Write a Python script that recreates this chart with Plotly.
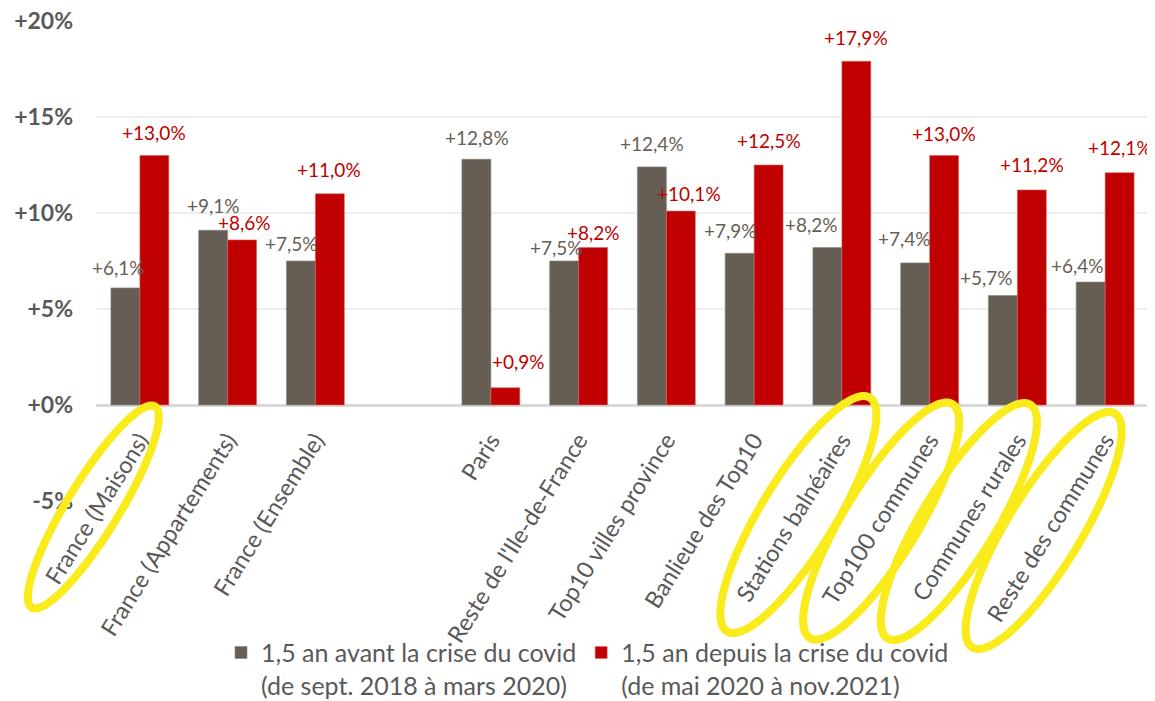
import math
import plotly.graph_objects as go

# ---------------- data ----------------
categories = ["France (Maisons)", "France (Appartements)", "France (Ensemble)", "",
              "Paris", "Reste de l'Ile-de-France", "Top10 villes province",
              "Banlieue des Top10", "Stations balnéaires", "Top100 communes",
              "Communes rurales", "Reste des communes"]
before_covid = [6.1, 9.1, 7.5, None, 12.8, 7.5, 12.4, 7.9, 8.2, 7.4, 5.7, 6.4]
after_covid = [13.0, 8.6, 11.0, None, 0.9, 8.2, 10.1, 12.5, 17.9, 13.0, 11.2, 12.1]
series_names = ["1,5 an avant la crise du covid<br>(de sept. 2018 à mars 2020)",
                "1,5 an depuis la crise du covid<br>(de mai 2020 à nov.2021)"]
y_tickvals = [-5, 0, 5, 10, 15, 20]
y_ticktext = ["-5%", "+0%", "+5%", "+10%", "+15%", "+20%"]
highlighted = ["France (Maisons)", "Stations balnéaires", "Top100 communes",
               "Communes rurales", "Reste des communes"]

# ---------------- style / layout ----------------
OFF = 8                      # page body margin of the html page
REF_W, REF_H = 1155, 701
YPAD = 0.05
YR = [-5 - YPAD, 20 + YPAD]
REF_L, REF_T = 96, 20        # plot area top-left in the page
PW, PH = 1053, 482
W, H = REF_W - OFF, REF_H - OFF
ML, MT = REF_L - OFF, REF_T - OFF
MR, MB = W - ML - PW, H - MT - PH
XR = [-0.5, len(categories) - 0.5]
GRAY, RED = "#665E55", "#C00000"
GRAY_TXT, AX_TXT = "#675E55", "#595959"
YELLOW = "#F9EB1C"
FONT = "Lato"
BARGAP = 0.34
# label nudges (px) relative to bar centre / bar top
gray_dx = [-7, 0, -9, 0, 1, -8, 0, -9, -16, -11, -16, -13]
gray_dy = [20, 25, 18, 0, 22, 14, 23, 23, 23, 24, 18, 17]
red_dx = [0, 2, -1, 0, 13, 0, 8, 0, 0, 0, 0, 0]
red_dy = [23, 17, 24, 0, 26, 15, 18, 24, 24, 22, 25, 25]
# ellipse geometry: (dx, dy from tick/zero px, semi-major, semi-minor, angle deg)
ellipse_geom = {
    "France (Maisons)": (-46.5, 102, 118, 26, 58.5),
    "Stations balnéaires": (-43.5, 109.5, 137, 37, 58.6),
    "Top100 communes": (-48.5, 116, 137, 37, 58.6),
    "Communes rurales": (-58.5, 116.5, 137, 37, 58.6),
    "Reste des communes": (-61.5, 125.5, 137, 37, 58.6),
}

pos = list(range(len(categories)))


def fmt(v):
    return ("%+.1f%%" % v).replace(".", ",")


fig = go.Figure()
fig.add_trace(go.Bar(x=pos, y=before_covid, name=series_names[0],
                     marker=dict(color=GRAY, line=dict(color="#8a837b", width=0.6))))
fig.add_trace(go.Bar(x=pos, y=after_covid, name=series_names[1],
                     marker=dict(color=RED, line=dict(color="#d86a6a", width=0.6))))

half = (1 - BARGAP) / 4.0
annotations = []
for i, (b, a) in enumerate(zip(before_covid, after_covid)):
    if b is not None:
        annotations.append(dict(x=pos[i] - half, y=b, text=fmt(b), showarrow=False,
                                xref="x", yref="y", yanchor="middle",
                                xshift=gray_dx[i], yshift=gray_dy[i],
                                font=dict(family=FONT, size=19, color=GRAY_TXT)))
    if a is not None:
        annotations.append(dict(x=pos[i] + half, y=a, text=fmt(a), showarrow=False,
                                xref="x", yref="y", yanchor="middle",
                                xshift=red_dx[i], yshift=red_dy[i],
                                font=dict(family=FONT, size=19, color=RED)))

# ellipses around highlighted category labels (built in page pixels -> paper)
zero_px = REF_T + (YR[1] - 0) / (YR[1] - YR[0]) * PH
shapes = []
for cat in highlighted:
    i = categories.index(cat)
    tick_px = REF_L + (pos[i] - XR[0]) / (XR[1] - XR[0]) * PW
    dx, dy, ea, eb, ang = ellipse_geom[cat]
    cx, cy = tick_px + dx, zero_px + dy
    th = math.radians(ang)
    pts = []
    for k in range(97):
        t = 2 * math.pi * k / 96
        ex = cx + ea * math.cos(t) * math.cos(th) - eb * math.sin(t) * math.sin(th)
        ey = cy - (ea * math.cos(t) * math.sin(th) + eb * math.sin(t) * math.cos(th))
        pts.append(((ex - REF_L) / PW, (REF_T + PH - ey) / PH))
    path = "M" + " L".join("%.5f,%.5f" % p for p in pts) + " Z"
    shapes.append(dict(type="path", path=path, xref="paper", yref="paper",
                       line=dict(color=YELLOW, width=8), layer="above"))

zero_frac = (0 - YR[0]) / (YR[1] - YR[0])
fig.update_layout(
    width=W, height=H,
    margin=dict(l=ML, r=MR, t=MT, b=MB, autoexpand=False),
    paper_bgcolor="white", plot_bgcolor="white",
    barmode="group", bargap=BARGAP, bargroupgap=0,
    font=dict(family=FONT, color=AX_TXT),
    xaxis=dict(range=XR, tickmode="array", tickvals=pos, ticktext=categories,
               tickangle=-58, anchor="free", position=zero_frac,
               showgrid=False, zeroline=False, showline=False, ticks="",
               automargin=False, ticklabelstandoff=16, ticklabeloverflow="allow",
               tickfont=dict(family=FONT, size=23.5, color=AX_TXT)),
    yaxis=dict(range=YR, tickmode="array", tickvals=y_tickvals, ticktext=y_ticktext,
               showgrid=True, gridcolor="#EEEEEE", gridwidth=1.5,
               zeroline=True, zerolinecolor="#D9D9D9", zerolinewidth=2.5,
               showline=False, ticks="", ticklabelstandoff=22, automargin=False,
               ticklabeloverflow="allow",
               tickfont=dict(family=FONT, size=23, color=AX_TXT, weight="bold")),
    legend=dict(orientation="h", x=(221 - REF_L) / PW, xanchor="left",
                y=-0.265, yanchor="top",
                valign="top", font=dict(family=FONT, size=25, color=AX_TXT),
                bgcolor="rgba(0,0,0,0)"),
    annotations=annotations,
    shapes=shapes,
    showlegend=True,
)

fig.write_html("out.html")
